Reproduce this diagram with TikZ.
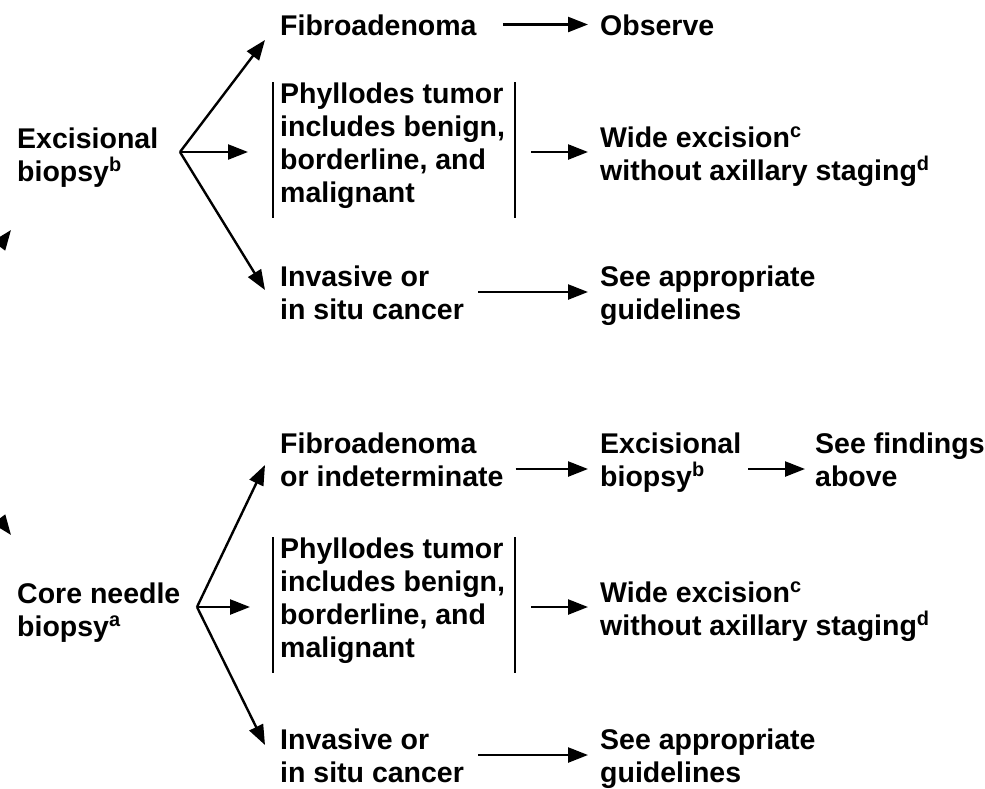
\documentclass[tikz,border=0pt]{standalone}
\usepackage{fontspec}
\setmainfont{Liberation Sans}
\usetikzlibrary{arrows.meta}

\begin{document}
\begin{tikzpicture}[x=1pt, y=-1pt,
    txt/.style={anchor=base west, inner sep=0pt, align=left,
      font=\fontsize{28.5}{33}\selectfont\bfseries},
    arr/.style={line width=2.4pt, -{Triangle[length=20pt, width=15pt]}},
    bar/.style={line width=2.4pt}]
  \useasboundingbox (0,0) rectangle (985,788);
  \clip (0,0) rectangle (985,788);

  % arrows coming in from the left
  \coordinate (src) at (-104,382);
  \coordinate (in1) at (11,230);
  \coordinate (in2) at (11,535);
  \draw[arr] (src) -- (in1);
  \draw[arr] (src) -- (in2);

  % upper block (base = last line)
  \node[txt] (exc1) at (17,181) {Excisional\\biopsy\textsuperscript{b}};
  \node[txt] (fib1) at (280,35) {Fibroadenoma};
  \node[txt] (obs1) at (600,35) {Observe};
  \node[txt] (phy1) at (280,202) {Phyllodes tumor\\includes benign,\\borderline, and\\malignant};
  \node[txt] (wide1) at (600,180) {Wide excision\textsuperscript{c}\\without axillary staging\textsuperscript{d}};
  \node[txt] (inv1) at (280,319) {Invasive or\\in situ cancer};
  \node[txt] (see1) at (600,319) {See appropriate\\guidelines};

  \coordinate (v1) at (180,152);
  \coordinate (t1a) at (265,40);
  \coordinate (t1b) at (248,152);
  \coordinate (t1c) at (265,290);
  \draw[arr] (v1) -- (t1a);
  \draw[arr] (v1) -- (t1b);
  \draw[arr] (v1) -- (t1c);

  \draw[bar] ([xshift=-7pt]phy1.north west) -- ([xshift=-7pt, yshift=-10pt]phy1.south west);
  \draw[bar] ([xshift=10pt]phy1.north east) -- ([xshift=10pt, yshift=-10pt]phy1.south east);

  \draw[arr, shorten <=26pt, shorten >=12pt] ([yshift=10.5pt]fib1.base east) -- ([yshift=10.5pt]obs1.base west);
  \coordinate (p1) at ([xshift=26pt, yshift=50pt]phy1.base east);
  \draw[arr, shorten >=12pt] (p1) -- (p1 -| wide1.west);
  \draw[arr, shorten <=14pt, shorten >=12pt] ([yshift=27pt]inv1.base east) -- ([yshift=27pt]see1.base west);

  % lower block
  \node[txt] (core) at (17,636) {Core needle\\biopsy\textsuperscript{a}};
  \node[txt] (fib2) at (280,486) {Fibroadenoma\\or indeterminate};
  \node[txt] (exc2) at (600,486) {Excisional\\biopsy\textsuperscript{b}};
  \node[txt] (find) at (815,486) {See findings\\above};
  \node[txt] (phy2) at (280,657) {Phyllodes tumor\\includes benign,\\borderline, and\\malignant};
  \node[txt] (wide2) at (600,635) {Wide excision\textsuperscript{c}\\without axillary staging\textsuperscript{d}};
  \node[txt] (inv2) at (280,782) {Invasive or\\in situ cancer};
  \node[txt] (see2) at (600,782) {See appropriate\\guidelines};

  \coordinate (v2) at (197,607);
  \coordinate (t2a) at (265,465);
  \coordinate (t2b) at (250,607);
  \coordinate (t2c) at (265,745);
  \draw[arr] (v2) -- (t2a);
  \draw[arr] (v2) -- (t2b);
  \draw[arr] (v2) -- (t2c);

  \draw[bar] ([xshift=-7pt]phy2.north west) -- ([xshift=-7pt, yshift=-10pt]phy2.south west);
  \draw[bar] ([xshift=10pt]phy2.north east) -- ([xshift=10pt, yshift=-10pt]phy2.south east);

  \draw[arr, shorten <=12pt, shorten >=12pt] ([yshift=17pt]fib2.base east) -- ([yshift=17pt]exc2.base west);
  \draw[arr, shorten <=7pt, shorten >=10pt] ([yshift=17pt]exc2.base east) -- ([yshift=17pt]find.base west);
  \coordinate (p2) at ([xshift=26pt, yshift=50pt]phy2.base east);
  \draw[arr, shorten >=12pt] (p2) -- (p2 -| wide2.west);
  \draw[arr, shorten <=14pt, shorten >=12pt] ([yshift=27pt]inv2.base east) -- ([yshift=27pt]see2.base west);
\end{tikzpicture}
\end{document}
